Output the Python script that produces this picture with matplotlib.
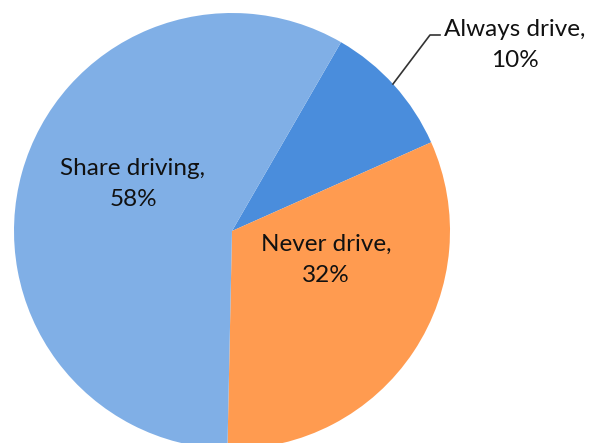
import matplotlib.pyplot as plt

# driving share, clockwise from the top-right
CATEGORIES = ["Always drive", "Never drive", "Share driving"]
VALUES = [10, 32, 58]
COLORS = ["#4a8ddc", "#ff9b50", "#80afe6"]

W, H = 589, 443
CENTER = (232, H - 231)
RADIUS = 218


def main():
    plt.rcParams["font.family"] = ["Lato", "DejaVu Sans"]
    fig = plt.figure(figsize=(W / 100, H / 100), dpi=100)
    ax = fig.add_axes([0, 0, 1, 1])

    ax.pie(
        VALUES,
        colors=COLORS,
        center=CENTER,
        radius=RADIUS,
        startangle=60,
        counterclock=False,
        frame=True,
        wedgeprops={"linewidth": 0},
    )
    ax.set_xlim(0, W)
    ax.set_ylim(0, H)
    ax.set_aspect("equal")
    ax.axis("off")

    labels = [f"{c},\n{v}%" for c, v in zip(CATEGORIES, VALUES)]
    positions = [(515, H - 45), (326, H - 260), (133, H - 184)]
    for text, (x, y) in zip(labels, positions):
        ax.text(x, y, text, ha="center", va="center", fontsize=17.5,
                linespacing=1.6, color="#111111")

    # leader line for the small slice
    ax.plot([393, 430, 440], [H - 84, H - 35, H - 35], color="#333333", lw=1.2)

    fig.savefig("out.png", dpi=100)


if __name__ == "__main__":
    main()
